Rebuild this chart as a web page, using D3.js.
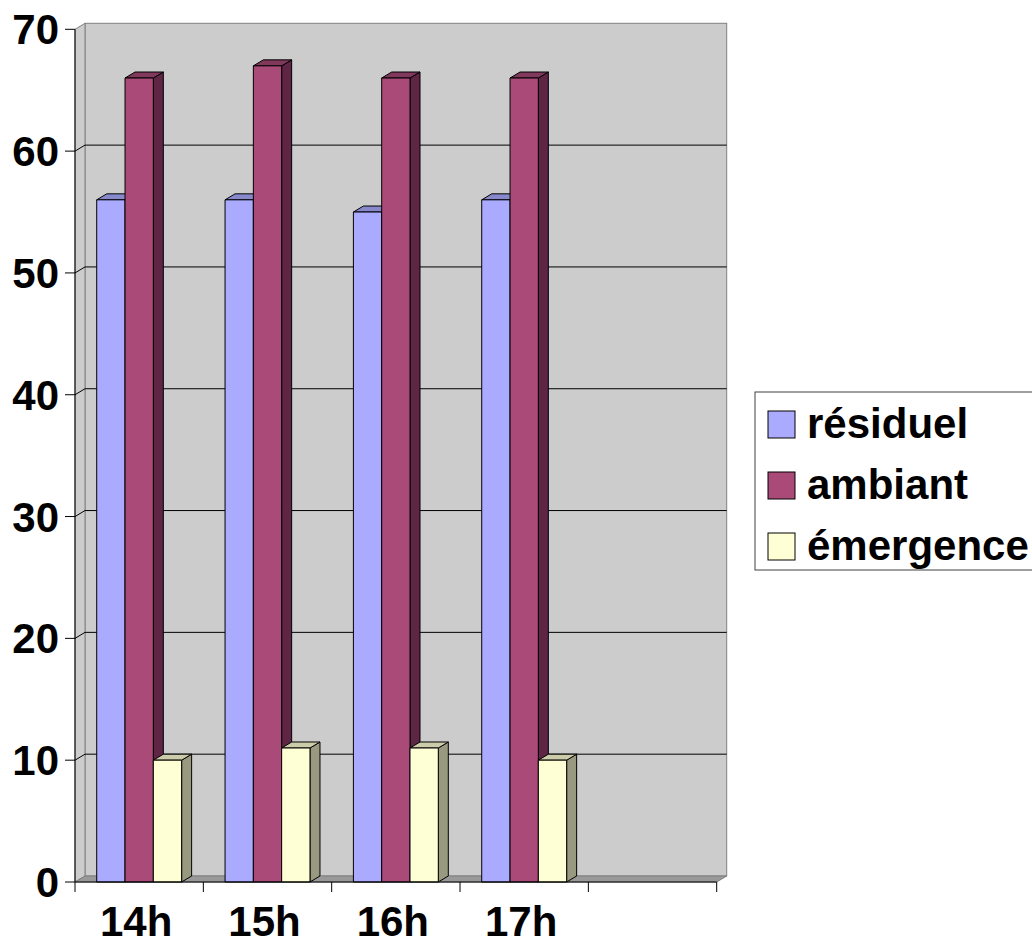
<!DOCTYPE html>
<html>
<head>
<meta charset="utf-8">
<script src="https://cdn.jsdelivr.net/npm/d3@7"></script>
<style>
html,body{margin:0;padding:0;background:#fff;}
svg{display:block;}
text{font-family:"Liberation Sans",Arial,sans-serif;font-weight:bold;fill:#000;}
</style>
</head>
<body>
<svg id="chart" width="1032" height="946"></svg>
<script>
// ---- data ----
const categories = ["14h", "15h", "16h", "17h", ""];
const seriesNames = ["résiduel", "ambiant", "émergence"];
const residuel = [56, 56, 55, 56];
const ambiant = [66, 67, 66, 66];
const emergence = [10, 11, 11, 10];
const yTicks = [0, 10, 20, 30, 40, 50, 60, 70];

(function () {
const seriesValues = [residuel, ambiant, emergence];
const colors = [
  {front: "#aaaaff", top: "#8888cc", side: "#6a6aa0"},
  {front: "#aa4a78", top: "#80385b", side: "#5f2544"},
  {front: "#ffffd6", top: "#ccccab", side: "#999980"}
];

const svg = d3.select("#chart");
const pLeft = 75, pRight = 716.7, pBottom = 882, pTop = 29.3;
const dx = 10, dy = 6;

const y = d3.scaleLinear().domain([0, 70]).range([pBottom, pTop]);
const x = d3.scaleBand().domain(categories.map((c, i) => i)).range([pLeft, pRight]).padding(0);
const xs = d3.scaleBand().domain(seriesNames).range([0, x.bandwidth()]).paddingInner(0).paddingOuter(0.767);

const g = svg.append("g");

// back wall
g.append("rect")
  .attr("x", pLeft + dx).attr("y", y(70) - dy)
  .attr("width", pRight - pLeft).attr("height", y(0) - y(70))
  .attr("fill", "#cccccc").attr("stroke", "#808080").attr("stroke-width", 1);

// side wall
g.append("path")
  .attr("d", `M${pLeft},${y(0)} L${pLeft},${y(70)} L${pLeft + dx},${y(70) - dy} L${pLeft + dx},${y(0) - dy} Z`)
  .attr("fill", "#cccccc").attr("stroke", "#808080").attr("stroke-width", 1);

// gridlines on back wall and side wall
yTicks.filter(t => t > 0 && t < 70).forEach(t => {
  g.append("line")
    .attr("x1", pLeft + dx).attr("x2", pRight + dx)
    .attr("y1", y(t) - dy).attr("y2", y(t) - dy)
    .attr("stroke", "#000").attr("stroke-width", 1);
  g.append("line")
    .attr("x1", pLeft).attr("x2", pLeft + dx)
    .attr("y1", y(t)).attr("y2", y(t) - dy)
    .attr("stroke", "#000").attr("stroke-width", 1);
});

// floor
g.append("path")
  .attr("d", `M${pLeft},${y(0)} L${pRight},${y(0)} L${pRight + dx},${y(0) - dy} L${pLeft + dx},${y(0) - dy} Z`)
  .attr("fill", "#999999").attr("stroke", "#808080").attr("stroke-width", 1);

// bars
categories.forEach((c, ci) => {
  seriesNames.forEach((s, si) => {
    const v = seriesValues[si][ci];
    if (v === undefined) return;
    const x0 = x(ci) + xs(s), x1 = x0 + xs.bandwidth();
    const yt = y(v), yb = y(0);
    const col = colors[si];
    const bg = g.append("g").attr("stroke", "#000").attr("stroke-width", 1).attr("stroke-linejoin", "round");
    bg.append("path")
      .attr("d", `M${x1},${yt} L${x1 + dx},${yt - dy} L${x1 + dx},${yb - dy} L${x1},${yb} Z`)
      .attr("fill", col.side);
    bg.append("path")
      .attr("d", `M${x0},${yt} L${x0 + dx},${yt - dy} L${x1 + dx},${yt - dy} L${x1},${yt} Z`)
      .attr("fill", col.top);
    bg.append("rect")
      .attr("x", x0).attr("y", yt).attr("width", x1 - x0).attr("height", yb - yt)
      .attr("fill", col.front);
  });
});

// axes lines
g.append("line").attr("x1", pLeft).attr("x2", pLeft).attr("y1", y(70)).attr("y2", y(0))
  .attr("stroke", "#000").attr("stroke-width", 1);
g.append("line").attr("x1", pLeft).attr("x2", pRight).attr("y1", y(0)).attr("y2", y(0))
  .attr("stroke", "#000").attr("stroke-width", 1);

// y ticks and labels
yTicks.forEach(t => {
  g.append("line").attr("x1", pLeft - 10).attr("x2", pLeft).attr("y1", y(t)).attr("y2", y(t))
    .attr("stroke", "#000").attr("stroke-width", 1);
  g.append("text").attr("x", 59).attr("y", y(t) + 15)
    .attr("text-anchor", "end").attr("font-size", 42).text(t);
});

// x ticks
const boundaries = categories.map((c, i) => x(i)).concat([pRight]);
boundaries.forEach(bx => {
  g.append("line").attr("x1", bx).attr("x2", bx).attr("y1", y(0)).attr("y2", y(0) + 10)
    .attr("stroke", "#000").attr("stroke-width", 1);
});
categories.forEach((c, i) => {
  if (!c) return;
  g.append("text").attr("x", x(i) + x.bandwidth() / 2 - 3).attr("y", 936)
    .attr("text-anchor", "middle").attr("font-size", 42).text(c);
});

// legend
const lg = svg.append("g");
lg.append("rect").attr("x", 755).attr("y", 392).attr("width", 300).attr("height", 178)
  .attr("fill", "#fff").attr("stroke", "#404040").attr("stroke-width", 1);
seriesNames.forEach((s, i) => {
  const sy = 411 + i * 61;
  lg.append("rect").attr("x", 768).attr("y", sy).attr("width", 27).attr("height", 27)
    .attr("fill", colors[i].front).attr("stroke", "#000").attr("stroke-width", 1);
  lg.append("text").attr("x", 807).attr("y", sy + 27).attr("font-size", 42).text(s);
});
})();
</script>
</body>
</html>
